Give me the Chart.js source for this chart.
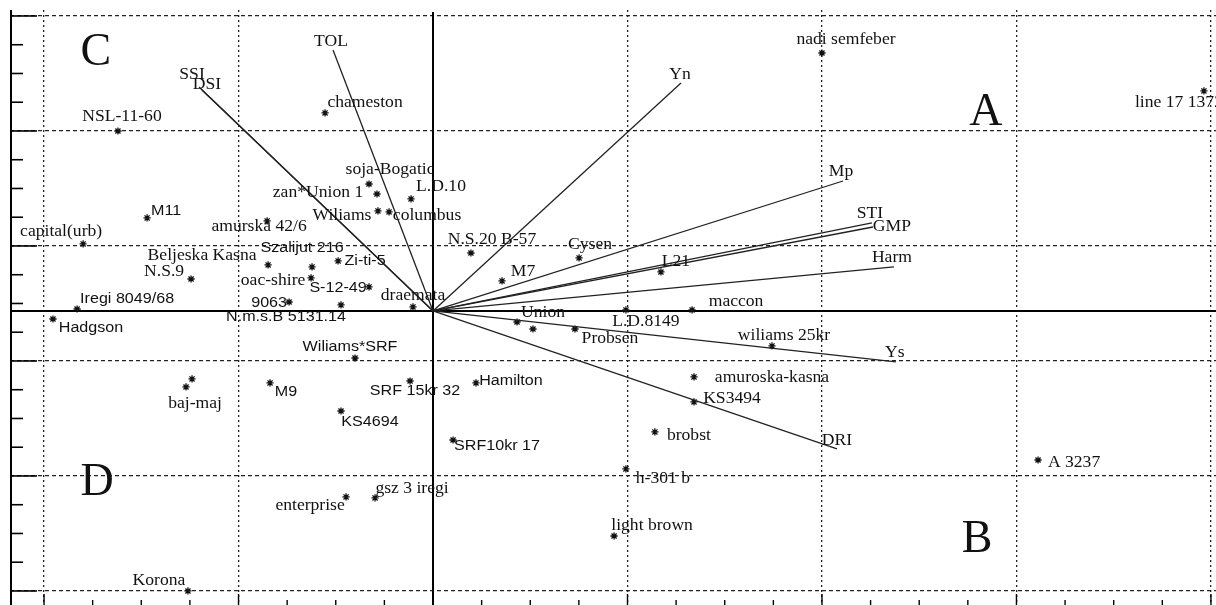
<!DOCTYPE html>
<html>
<head>
<meta charset="utf-8">
<script src="https://cdn.jsdelivr.net/npm/chart.js@4.4.1/dist/chart.umd.min.js"></script>
<style>
html,body{margin:0;padding:0;background:#fff;overflow:hidden;}
#wrap{width:1216px;height:605px;}
</style>
</head>
<body>
<div id="wrap"><canvas id="c" width="1216" height="605"></canvas></div>
<script>
// ---------------- DATA ----------------
const genotypes = [
  'NSL-11-60','chameston','nadi semfeber','line 17 1372','soja-Bogatic','zan*Union 1','L.D.10',
  'Wiliams','columbus','M11','capital(urb)','amurska 42/6','Beljeska Kasna','Szalijut 216','Zi-ti-5',
  'N.S.9','oac-shire','S-12-49','draemata','Iregi 8049/68','9063','N.m.s.B 5131.14','Hadgson',
  'Wiliams*SRF','baj-maj','','M9','SRF 15kr 32','Hamilton','KS4694','SRF10kr 17','enterprise',
  'gsz 3 iregi','Korona','N.S.20 B-57','Cysen','M7','L21','maccon','L.D.8149','Union',' ',
  'Probsen','wiliams 25kr','amuroska-kasna','KS3494','brobst','h-301 b','light brown','A 3237'
];
const genoPC1 = [
  -1.620,-0.555,2.000,3.964,-0.329,-0.288,-0.113,
  -0.283,-0.226,-1.470,-1.799,-0.853,-0.848,-0.622,-0.488,
  -1.244,-0.627,-0.329,-0.103,-1.830,-0.740,-0.473,-1.954,
  -0.401,-1.270,-1.239,-0.838,-0.118,0.221,-0.473,0.103,-0.447,
  -0.298,-1.260,0.195,0.751,0.355,1.172,1.332,0.992,0.432,0.514,
  0.730,1.743,1.342,1.342,1.141,0.992,0.931,3.111
];
const genoPC2 = [
  1.565,1.722,2.243,1.913,1.104,1.017,0.974,
  0.870,0.861,0.809,0.583,0.783,0.400,0.383,0.435,
  0.278,0.287,0.209,0.035,0.017,0.078,0.052,-0.070,
  -0.409,-0.661,-0.591,-0.626,-0.609,-0.626,-0.870,-1.122,-1.617,
  -1.626,-2.435,0.504,0.461,0.261,0.339,0.009,0.009,-0.096,-0.157,
  -0.157,-0.304,-0.574,-0.791,-1.052,-1.374,-1.957,-1.296
];
const traits   = ['TOL','SSI','DSI','Yn','Mp','STI','GMP','Harm','Ys','DRI'];
const traitPC1 = [-0.514,-1.203,-1.188,1.275,2.108,2.257,2.262,2.370,2.380,2.077];
const traitPC2 = [ 2.270, 1.948, 1.922,1.983,1.130,0.765,0.730,0.383,-0.443,-1.200];
const quadrantNames = ['A','B','C','D'];
const xGridValues = [-2,-1,1,2,3,4];
const yGridValues = [2.565,1.565,0.565,-0.435,-1.435,-2.435];

// ---------------- STYLE / LAYOUT ----------------
const quadrantPos = {A:[2.843,1.722], B:[2.797,-1.991], C:[-1.733,2.243], D:[-1.727,-1.496]};
const genoLabelOffset = {
  'NSL-11-60':[4,-14],'chameston':[40,-10],'nadi semfeber':[24,-13],'line 17 1372':[-25,12],
  'soja-Bogatic':[21,-14],'zan*Union 1':[-59,-1],'L.D.10':[30,-12],'Wiliams':[-36,5],
  'columbus':[38,4],'M11':[19,-7],'capital(urb)':[-22,-12],'amurska 42/6':[-8,6],
  'Beljeska Kasna':[-66,-9],'Szalijut 216':[-10,-19],'Zi-ti-5':[27,0],'N.S.9':[-27,-7],
  'oac-shire':[-38,3],'S-12-49':[-31,1],'draemata':[0,-11],'Iregi 8049/68':[50,-10],
  '9063':[-20,1],'N.m.s.B 5131.14':[-55,12],'Hadgson':[38,9],'Wiliams*SRF':[-5,-11],
  'baj-maj':[9,17],'M9':[16,9],'SRF 15kr 32':[5,10],'Hamilton':[35,-2],'KS4694':[29,11],
  'SRF10kr 17':[44,6],'enterprise':[-36,9],'gsz 3 iregi':[37,-9],'Korona':[-29,-10],
  'N.S.20 B-57':[21,-13],'Cysen':[11,-13],'M7':[21,-9],'L21':[15,-10],'maccon':[44,-8],
  'L.D.8149':[20,12],'Union':[26,-9],'Probsen':[35,10],'wiliams 25kr':[12,-10],
  'amuroska-kasna':[78,1],'KS3494':[38,-3],'brobst':[34,4],'h-301 b':[37,10],
  'light brown':[38,-10],'A 3237':[36,3]
};
const traitLabelOffset = {
  'TOL':[-2,-8],'SSI':[-7,-12],'DSI':[5,-5],'Yn':[-1,-8],'Mp':[-2,-9],'STI':[-2,-9],
  'GMP':[19,0],'Harm':[-2,-9],'Ys':[-1,-9],'DRI':[0,-8]
};
const sansLabels = new Set(['Wiliams*SRF','N.m.s.B 5131.14','9063','S-12-49','Zi-ti-5','Szalijut 216',
  'M9','SRF 15kr 32','KS4694','SRF10kr 17','Hadgson','M11','Iregi 8049/68','Hamilton']);
const SERIF = '16px "Liberation Serif", "DejaVu Serif", serif';
const SANS  = '14px "Liberation Sans", Arial, sans-serif';
const INK = '#111';

function stretchedText(ctx, text, x, y, font, sx){
  ctx.save();
  ctx.font = font;
  ctx.fillStyle = INK;
  ctx.textAlign = 'center';
  ctx.textBaseline = 'middle';
  ctx.translate(x, y);
  ctx.scale(sx, 1);
  ctx.fillText(text, 0, 0);
  ctx.restore();
}

// ---------------- DATASETS ----------------
const datasets = [];
traits.forEach((t, i) => {
  datasets.push({
    label: t, kind: 'trait',
    data: [{x:0, y:0}, {x: traitPC1[i], y: traitPC2[i]}],
    showLine: true, borderColor: '#222', borderWidth: 1.3,
    pointRadius: 0, pointHoverRadius: 0, fill: false
  });
});
datasets.push({
  label: 'genotypes', kind: 'geno',
  data: genotypes.map((g, i) => ({x: genoPC1[i], y: genoPC2[i]})),
  pointStyle: 'star', pointRadius: 3.6, borderColor: INK, backgroundColor: INK,
  borderWidth: 1.3, showLine: false
});

// ---------------- PLUGINS ----------------
const axesDecor = {
  id: 'axesDecor',
  beforeDatasetsDraw(chart){
    const {ctx, chartArea:a, scales:{x, y}} = chart;
    ctx.save();
    ctx.strokeStyle = '#000';
    ctx.lineWidth = 2;
    ctx.beginPath(); ctx.moveTo(a.left + 1, a.top); ctx.lineTo(a.left + 1, a.bottom); ctx.stroke();
    const x0 = x.getPixelForValue(0), y0 = y.getPixelForValue(0);
    ctx.beginPath(); ctx.moveTo(a.left, y0); ctx.lineTo(a.right, y0); ctx.stroke();
    ctx.beginPath(); ctx.moveTo(x0, a.top + 2); ctx.lineTo(x0, a.bottom); ctx.stroke();
    ctx.lineWidth = 1.6;
    const yTop = Math.max(...yGridValues), yBot = Math.min(...yGridValues);
    for (let k = 0; yTop - k*0.25 >= yBot - 1e-6; k++){
      const p = y.getPixelForValue(yTop - k*0.25);
      const len = (k % 4 === 0) ? 27 : 13;
      ctx.beginPath(); ctx.moveTo(a.left, p); ctx.lineTo(a.left + len, p); ctx.stroke();
    }
    ctx.lineWidth = 1.4;
    for (let k = 0; -2 + k*0.25 <= 4 + 1e-6; k++){
      const p = x.getPixelForValue(-2 + k*0.25);
      const len = (k % 4 === 0) ? 11 : 5;
      ctx.beginPath(); ctx.moveTo(p, a.bottom); ctx.lineTo(p, a.bottom - len); ctx.stroke();
    }
    ctx.restore();
  },
  afterDatasetsDraw(chart){
    const {ctx, scales:{x, y}} = chart;
    chart.data.datasets.forEach((ds, di) => {
      const meta = chart.getDatasetMeta(di);
      if (ds.kind === 'trait'){
        const el = meta.data[1];
        const off = traitLabelOffset[ds.label] || [0,-8];
        stretchedText(ctx, ds.label, el.x + off[0], el.y + off[1], SERIF, 1.1);
      } else {
        meta.data.forEach((el, i) => {
          const name = genotypes[i].trim();
          if (!name) return;
          const off = genoLabelOffset[name] || [0,-10];
          const sans = sansLabels.has(name);
          stretchedText(ctx, name, el.x + off[0], el.y + off[1], sans ? SANS : SERIF, sans ? 1.15 : 1.1);
        });
      }
    });
    quadrantNames.forEach(q => {
      const [qx, qy] = quadrantPos[q];
      stretchedText(ctx, q, x.getPixelForValue(qx), y.getPixelForValue(qy),
        '46px "Liberation Serif", "DejaVu Serif", serif', 1.0);
    });
  }
};

// ---------------- CHART ----------------
new Chart(document.getElementById('c'), {
  type: 'scatter',
  data: { datasets },
  plugins: [axesDecor],
  options: {
    responsive: false,
    devicePixelRatio: 1,
    animation: false,
    layout: { autoPadding: false, padding: { left: 10, top: 10, right: 0, bottom: 0 } },
    plugins: { legend: { display: false }, tooltip: { enabled: false } },
    elements: { line: { tension: 0 } },
    scales: {
      x: {
        type: 'linear', min: -2.175, max: 4.026,
        afterBuildTicks: s => { s.ticks = xGridValues.map(v => ({value: v})); },
        afterFit: s => { s.height = 0; s.paddingLeft = 0; s.paddingRight = 0; s.paddingTop = 0; s.paddingBottom = 0; },
        ticks: { display: false },
        grid: { color: '#222', lineWidth: 1.3, drawTicks: false },
        border: { display: false, dash: [2, 3] }
      },
      y: {
        type: 'linear', min: -2.557, max: 2.617,
        afterBuildTicks: s => { s.ticks = yGridValues.map(v => ({value: v})); },
        afterFit: s => { s.width = 0; s.paddingLeft = 0; s.paddingRight = 0; s.paddingTop = 0; s.paddingBottom = 0; },
        ticks: { display: false },
        grid: { color: '#222', lineWidth: 1.3, drawTicks: false },
        border: { display: false, dash: [4, 3] }
      }
    }
  }
});
</script>
</body>
</html>
